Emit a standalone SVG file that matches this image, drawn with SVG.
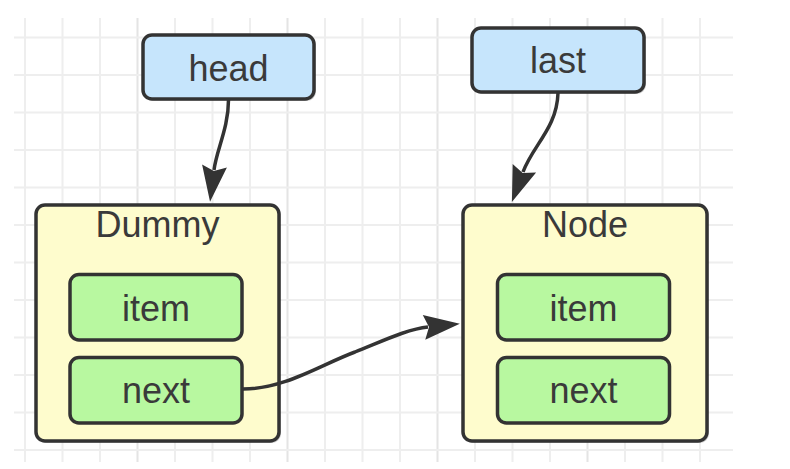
<svg xmlns="http://www.w3.org/2000/svg" width="790" height="469" viewBox="0 0 790 469">
<style>
.grid line{stroke:#eeeeee;stroke-width:2}
.grid line.major{stroke:#e4e4e4}
.ptr{fill:#c6e5fc;stroke:#333;stroke-width:3.5}
.box{fill:#fefccd;stroke:#333;stroke-width:3.5}
.fld{fill:#b8f8a0;stroke:#333;stroke-width:3.5}
.shadow{fill:#000;opacity:0.18}
text{font-family:"Liberation Sans",Arial,sans-serif;font-size:36px;fill:#3a3a3a;text-anchor:middle}
.edge{fill:none;stroke:#333;stroke-width:3.5}
</style>
<defs>
<marker id="arr" viewBox="-1 -14 40 28" markerWidth="40" markerHeight="28" refX="4" refY="0" markerUnits="userSpaceOnUse" orient="auto">
<path d="M36,0 L0,-12.5 L5,0 L0,12.5 Z" fill="#333"/>
</marker>
</defs>
<rect width="790" height="469" fill="#fff"/>
<g class="grid">
<line x1="25" y1="18" x2="25" y2="462"/>
<line x1="62.5" y1="18" x2="62.5" y2="462"/>
<line x1="100" y1="18" x2="100" y2="462"/>
<line class="major" x1="137.5" y1="18" x2="137.5" y2="462"/>
<line x1="175" y1="18" x2="175" y2="462"/>
<line x1="212.5" y1="18" x2="212.5" y2="462"/>
<line x1="250" y1="18" x2="250" y2="462"/>
<line class="major" x1="287.5" y1="18" x2="287.5" y2="462"/>
<line x1="325" y1="18" x2="325" y2="462"/>
<line x1="362.5" y1="18" x2="362.5" y2="462"/>
<line x1="400" y1="18" x2="400" y2="462"/>
<line class="major" x1="437.5" y1="18" x2="437.5" y2="462"/>
<line x1="475" y1="18" x2="475" y2="462"/>
<line x1="512.5" y1="18" x2="512.5" y2="462"/>
<line x1="550" y1="18" x2="550" y2="462"/>
<line class="major" x1="587.5" y1="18" x2="587.5" y2="462"/>
<line x1="625" y1="18" x2="625" y2="462"/>
<line x1="662.5" y1="18" x2="662.5" y2="462"/>
<line x1="700" y1="18" x2="700" y2="462"/>
<line x1="14" y1="37.5" x2="733" y2="37.5"/>
<line x1="14" y1="75" x2="733" y2="75"/>
<line x1="14" y1="112.5" x2="733" y2="112.5"/>
<line x1="14" y1="150" x2="733" y2="150"/>
<line x1="14" y1="187.5" x2="733" y2="187.5"/>
<line x1="14" y1="225" x2="733" y2="225"/>
<line x1="14" y1="262.5" x2="733" y2="262.5"/>
<line x1="14" y1="300" x2="733" y2="300"/>
<line x1="14" y1="337.5" x2="733" y2="337.5"/>
<line x1="14" y1="375" x2="733" y2="375"/>
<line x1="14" y1="412.5" x2="733" y2="412.5"/>
<line x1="14" y1="450" x2="733" y2="450"/>
</g>
<g id="dummy">
<rect class="shadow" x="38" y="207" width="243" height="236" rx="9"/>
<rect class="box" x="36" y="205" width="243" height="236" rx="9"/>
<text x="157.5" y="237">Dummy</text>
</g>
<g id="dummy-item">
<rect class="fld" x="70" y="274.5" width="172" height="65.5" rx="9"/>
<text x="156" y="320.5">item</text>
</g>
<g id="dummy-next">
<rect class="fld" x="70" y="357.5" width="172" height="65.5" rx="9"/>
<text x="156" y="402.5">next</text>
</g>
<g id="node">
<rect class="shadow" x="465" y="207" width="244" height="236" rx="9"/>
<rect class="box" x="463" y="205" width="244" height="236" rx="9"/>
<text x="585" y="237">Node</text>
</g>
<g id="node-item">
<rect class="fld" x="497.5" y="274.5" width="172" height="65.5" rx="9"/>
<text x="583.5" y="320.5">item</text>
</g>
<g id="node-next">
<rect class="fld" x="497.5" y="357.5" width="172" height="65.5" rx="9"/>
<text x="583.5" y="402.5">next</text>
</g>
<g id="head">
<rect class="shadow" x="145" y="37" width="171" height="64" rx="9"/>
<rect class="ptr" x="143" y="35" width="171" height="64" rx="9"/>
<text x="228.5" y="81">head</text>
</g>
<g id="last">
<rect class="shadow" x="474" y="30" width="172" height="64" rx="9"/>
<rect class="ptr" x="472" y="28" width="172" height="64" rx="9"/>
<text x="558" y="73">last</text>
</g>
<g id="connectors">
<path class="edge" d="M228.5,100 C228.5,128 216.5,150 214,170" marker-end="url(#arr)"/>
<path class="edge" d="M558,93 C557,128 533,145 523,172" marker-end="url(#arr)"/>
<path class="edge" d="M243,389 C285,389 320,365 355,352 C385,340 408,329 428,327" marker-end="url(#arr)"/>
</g>
</svg>
